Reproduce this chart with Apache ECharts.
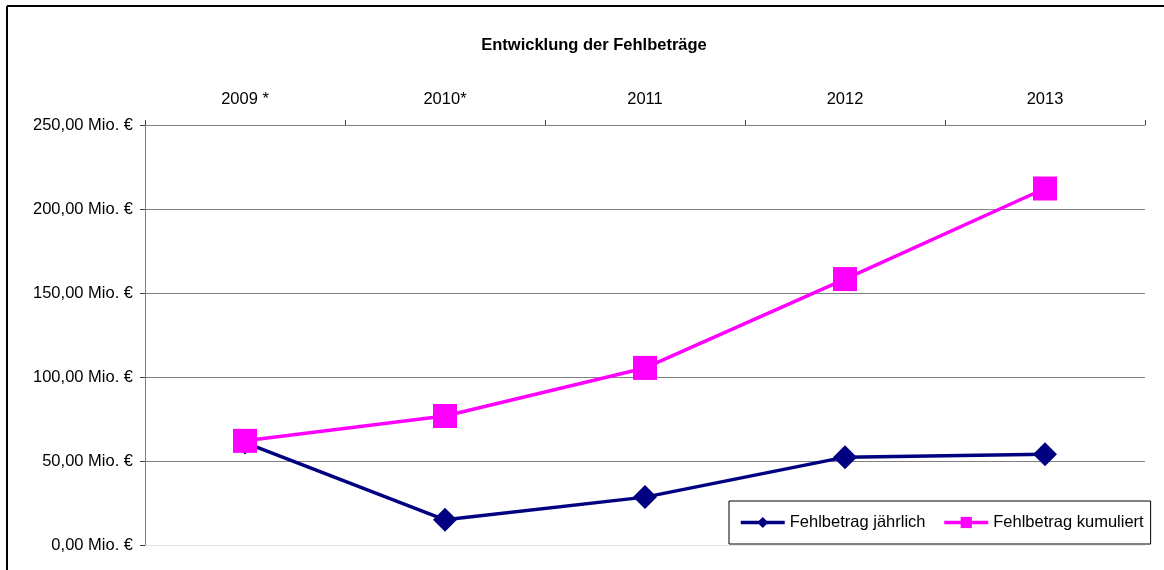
<!DOCTYPE html>
<html><head><meta charset="utf-8">
<script src="https://cdn.jsdelivr.net/npm/echarts@6/dist/echarts.min.js"></script>
<style>html,body{margin:0;padding:0;background:#fff}#c{width:1164px;height:570px}</style>
</head><body><div id="c"></div>
<script>
const categories = ['2009 *', '2010*', '2011', '2012', '2013'];
const jaehrlich = [61, 15, 28.5, 52.3, 54];
const kumuliert = [62, 76.8, 105.4, 158.3, 212.2];
const yTicks = [0, 50, 100, 150, 200, 250];

const chart = echarts.init(document.getElementById('c'));
const font = '"Liberation Sans", Arial, sans-serif';
chart.setOption({
  backgroundColor: '#fff',
  animation: false,
  textStyle: { fontFamily: font },
  title: {
    text: 'Entwicklung der Fehlbeträge',
    left: 589, top: 32, textAlign: 'center',
    textStyle: { fontFamily: font, fontSize: 16.5, fontWeight: 'bold', color: '#000' }
  },
  grid: { left: 145, right: 19, top: 125, bottom: 25, containLabel: false },
  legend: {
    left: 729, top: 501,
    padding: [13, 7, 13, 10],
    itemWidth: 44, itemHeight: 14, itemGap: 17,
    borderColor: '#000', borderWidth: 1,
    lineStyle: { width: 3.5 },
    textStyle: { fontFamily: font, fontSize: 16.5, color: '#000' },
    data: ['Fehlbetrag jährlich', 'Fehlbetrag kumuliert']
  },
  xAxis: {
    type: 'category', position: 'top', data: categories, boundaryGap: true,
    axisLine: { show: true, onZero: false, lineStyle: { color: '#808080', width: 1 } },
    axisTick: { show: true, inside: false, length: 5, interval: 0, lineStyle: { color: '#404040' } },
    axisLabel: { fontFamily: font, fontSize: 16.5, color: '#000', margin: 17 },
    splitLine: { show: false }
  },
  yAxis: {
    type: 'value', min: yTicks[0], max: yTicks[yTicks.length - 1], interval: 50,
    axisLine: { show: true, lineStyle: { color: '#808080', width: 1 } },
    axisTick: { show: true, length: 5, lineStyle: { color: '#404040' } },
    axisLabel: {
      fontFamily: font, fontSize: 16.5, color: '#000', margin: 12,
      formatter: v => v.toFixed(2).replace('.', ',') + ' Mio. €'
    },
    splitLine: { show: true, lineStyle: { color: ['#e4e4e4', '#808080', '#808080', '#808080', '#808080', '#808080'], width: 1 } }
  },
  series: [
    {
      name: 'Fehlbetrag jährlich', type: 'line', data: jaehrlich,
      symbol: 'diamond', symbolSize: [24, 24],
      lineStyle: { color: '#000080', width: 3.5 },
      itemStyle: { color: '#000080' }, z: 2
    },
    {
      name: 'Fehlbetrag kumuliert', type: 'line', data: kumuliert,
      symbol: 'rect', symbolSize: 24,
      lineStyle: { color: '#FF00FF', width: 3.5 },
      itemStyle: { color: '#FF00FF' }, z: 3
    }
  ],
  graphic: [
    { type: 'line', shape: { x1: 7, y1: 6, x2: 1164, y2: 6 }, style: { stroke: '#000', lineWidth: 2 } },
    { type: 'line', shape: { x1: 7, y1: 6, x2: 7, y2: 570 }, style: { stroke: '#000', lineWidth: 2 } }
  ]
});
</script></body></html>
